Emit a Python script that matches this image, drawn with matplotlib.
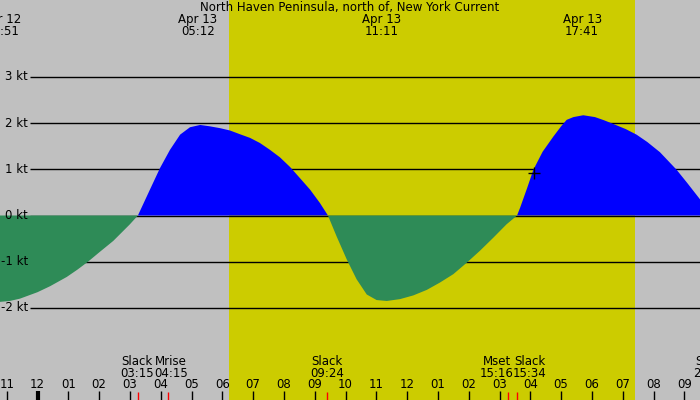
import matplotlib
matplotlib.use("Agg")
import matplotlib.pyplot as plt
import numpy as np

# current speed: hours after midnight Apr 13, knots
hours = [-1.22, -0.9, -0.57, 0.0, 0.41, 0.95, 1.3, 1.64, 2.0, 2.46, 3.0, 3.26,
         3.65, 3.98, 4.30, 4.63, 4.95, 5.28, 5.60, 5.93, 6.25, 6.57, 6.90,
         7.22, 7.55, 7.87, 8.20, 8.52, 8.85, 9.17, 9.43,
         9.71, 10.04, 10.36, 10.69, 11.01, 11.34, 11.77, 12.20, 12.64, 13.07,
         13.50, 13.94, 14.37, 14.80, 15.23, 15.57,
         15.67, 15.9, 16.1, 16.4, 16.75, 17.0, 17.18, 17.4, 17.72, 18.1, 18.4,
         18.7, 19.1, 19.45, 19.8, 20.21, 20.75, 21.1, 21.51]
knots = [-1.87, -1.85, -1.80, -1.66, -1.53, -1.33, -1.17, -1.00, -0.80, -0.55, -0.19, 0.0,
         0.56, 1.03, 1.42, 1.75, 1.91, 1.96, 1.93, 1.89, 1.84, 1.76, 1.68,
         1.57, 1.42, 1.26, 1.05, 0.81, 0.56, 0.27, 0.0,
         -0.45, -0.95, -1.38, -1.71, -1.83, -1.85, -1.81, -1.73, -1.61, -1.45,
         -1.27, -1.02, -0.76, -0.48, -0.19, 0.0,
         0.17, 0.60, 0.99, 1.38, 1.71, 1.93, 2.07, 2.13, 2.17, 2.13, 2.06,
         1.98, 1.87, 1.75, 1.59, 1.37, 0.99, 0.70, 0.35]

# max / min current labels at top
peak_hours = [-1.15, 5.2, 11.183, 17.683]
peak_dates = ["Apr 12", "Apr 13", "Apr 13", "Apr 13"]
peak_times = ["22:51", "05:12", "11:11", "17:41"]

# events at bottom
event_hours = [3.25, 4.25, 9.4, 15.267, 15.567, 21.85]
event_names = ["Slack", "Mrise", "Slack", "Mset", "Slack", "Slack"]
event_times = ["03:15", "04:15", "09:24", "15:16", "15:34", "21:51"]
# label nudges (hours) so neighbouring labels don't collide
event_nudge = [-0.03, 0.08, 0.0, -0.36, 0.41, 0.0]

sunrise, sunset = 6.22, 19.40
now_hour, now_knots = 16.13, 0.91

levels = [3, 2, 1, 0, -1, -2]
hour_ticks = list(range(-1, 22))
hour_labels = ["%02d" % ((h - 1) % 12 + 1) for h in hour_ticks]

gray = "#c0c0c0"
yellow = "#cccc00"
fs = 8.5

fig = plt.figure(figsize=(7, 4), dpi=100)
fig.patch.set_facecolor(gray)
ax = fig.add_axes([0, 0, 1, 1])
ax.set_facecolor(gray)
ax.set_xlim(-37.5 / 30.8, 662.5 / 30.8)
ax.set_ylim(-184.5 / 46.2, 215.5 / 46.2)
ax.axis("off")

ax.axvspan(sunrise, sunset, color=yellow, lw=0, zorder=0)

ytr = ax.get_yaxis_transform()
xtr = ax.get_xaxis_transform()

for lv in levels:
    ax.hlines(lv, 0.043, 1, transform=ytr, color="black", lw=1, zorder=1)
    ax.text(0.04, lv, "%d kt" % lv, transform=ytr, ha="right", va="center",
            fontsize=fs, zorder=5)

h = np.array(hours)
k = np.array(knots)
ax.fill_between(h, 0, k, where=k >= 0, interpolate=True, color="#0000ff", lw=0, zorder=2)
ax.fill_between(h, 0, k, where=k <= 0, interpolate=True, color="#2e8b57", lw=0, zorder=2)

ax.plot(now_hour, now_knots, marker="+", color="black", ms=9, mew=1, zorder=4)

ax.text(0.5, 0.98, "North Haven Peninsula, north of, New York Current",
        transform=ax.transAxes, ha="center", va="center", fontsize=fs)
for ph, pd, pt in zip(peak_hours, peak_dates, peak_times):
    ax.text(ph, 0.952, pd, transform=xtr, ha="center", va="center", fontsize=fs)
    ax.text(ph, 0.922, pt, transform=xtr, ha="center", va="center", fontsize=fs)

for hh, lab in zip(hour_ticks, hour_labels):
    lw = 3 if hh == 0 else 1
    ax.vlines(hh, 0, 0.022, transform=xtr, color="black", lw=lw, zorder=4)
    ax.text(hh, 0.038, lab, transform=xtr, ha="center", va="center", fontsize=fs)

for eh, en, et, nd in zip(event_hours, event_names, event_times, event_nudge):
    ax.vlines(eh, 0, 0.02, transform=xtr, color="red", lw=1, zorder=4)
    ax.text(eh + nd, 0.096, en, transform=xtr, ha="center", va="center", fontsize=fs)
    ax.text(eh + nd, 0.067, et, transform=xtr, ha="center", va="center", fontsize=fs)

fig.savefig("out.png", dpi=100, facecolor=gray)
